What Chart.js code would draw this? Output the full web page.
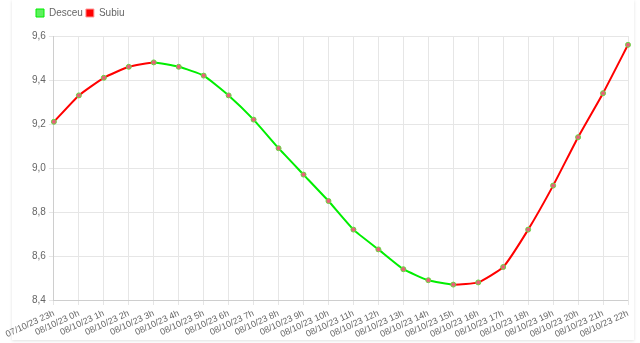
<!DOCTYPE html>
<html>
<head>
<meta charset="utf-8">
<script src="https://cdn.jsdelivr.net/npm/chart.js@4.4.0/dist/chart.umd.min.js"></script>
<style>
    body { margin: 0; background: #fff; }
    #card {
        position: absolute; left: 12px; top: 0; width: 622px; height: 340px;
        box-shadow: 0 1px 3px rgba(0,0,0,0.12);
        background: #fff;
    }
    #wrap { position: absolute; left: 0; top: 0; width: 640px; height: 343px; }
</style>
</head>
<body>
<div id="card"></div>
<div id="wrap"><canvas id="nivelChart"></canvas></div>
<script>
    // horários das leituras
    var gLabels = ["07/10/23 23h", "08/10/23 0h", "08/10/23 1h", "08/10/23 2h", "08/10/23 3h",
        "08/10/23 4h", "08/10/23 5h", "08/10/23 6h", "08/10/23 7h", "08/10/23 8h",
        "08/10/23 9h", "08/10/23 10h", "08/10/23 11h", "08/10/23 12h", "08/10/23 13h",
        "08/10/23 14h", "08/10/23 15h", "08/10/23 16h", "08/10/23 17h", "08/10/23 18h",
        "08/10/23 19h", "08/10/23 20h", "08/10/23 21h", "08/10/23 22h"];
    // nível (m)
    var gNivel = [9.21, 9.33, 9.41, 9.46, 9.48, 9.46, 9.42, 9.33, 9.22, 9.09,
        8.97, 8.85, 8.72, 8.63, 8.54, 8.49, 8.47, 8.48, 8.55, 8.72,
        8.92, 9.14, 9.34, 9.56];
    var gSeriesNames = ["Desceu", "Subiu"];

    //espaço extra abaixo da legenda e deslocamento para a direita
    var legendSpacing = {
        id: "legendSpacing",
        beforeInit: function (chart) {
            var origFit = chart.legend.fit;
            chart.legend.fit = function () {
                origFit.bind(chart.legend)();
                this.height += 8;
            };
        },
        afterLayout: function (chart) {
            chart.legend.left += 8;
        }
    };

    var vCtx = document.getElementById("nivelChart").getContext("2d");
    new Chart(vCtx, {
        type: "line",
        data: {
            labels: gLabels,
            datasets: [
                {
                    label: gSeriesNames[0],
                    data: gNivel,
                    backgroundColor: "#5ef05e",
                    borderColor: "#00ee00",
                    borderWidth: 2,
                    tension: 0.15,
                    pointRadius: 2.5,
                    pointBorderWidth: 1,
                    pointBackgroundColor: "#e8607a",
                    pointBorderColor: "#66d944",
                    segment: {
                        // vermelho quando sobe, verde quando desce
                        borderColor: function (ctx) {
                            return ctx.p1.parsed.y > ctx.p0.parsed.y ? "#ff0000" : "#00ee00";
                        }
                    }
                },
                {
                    label: gSeriesNames[1],
                    data: [],
                    backgroundColor: "#ff0000",
                    borderColor: "#ff9999"
                }
            ]
        },
        options: {
            responsive: true,
            maintainAspectRatio: false,
            animation: false,
            layout: { padding: { left: 25, right: 12, top: 5, bottom: 0 } },
            plugins: {
                legend: {
                    position: "top",
                    align: "start",
                    labels: {
                        boxWidth: 8,
                        boxHeight: 8,
                        padding: 3,
                        color: "#666",
                        font: { family: "Arial", size: 10 },
                        generateLabels: function (chart) {
                            return chart.data.datasets.map(function (ds, i) {
                                return {
                                    text: ds.label,
                                    fillStyle: ds.backgroundColor,
                                    strokeStyle: ds.borderColor,
                                    lineWidth: 1,
                                    fontColor: "#666",
                                    datasetIndex: i
                                };
                            });
                        }
                    }
                },
                tooltip: { enabled: false }
            },
            scales: {
                x: {
                    grid: { color: "#e6e6e6", tickLength: 5 },
                    ticks: {
                        color: "#666",
                        font: { family: "Arial", size: 9 },
                        maxRotation: 25,
                        minRotation: 25,
                        autoSkip: false
                    }
                },
                y: {
                    min: 8.4,
                    max: 9.6,
                    afterFit: function (scale) { scale.width += 4; },
                    grid: { color: "#e6e6e6", tickLength: 5 },
                    ticks: {
                        color: "#666",
                        font: { family: "Arial", size: 10 },
                        stepSize: 0.2,
                        callback: function (v) { return v.toFixed(1).replace(".", ","); }
                    }
                }
            }
        },
        plugins: [legendSpacing]
    });
</script>
</body>
</html>
